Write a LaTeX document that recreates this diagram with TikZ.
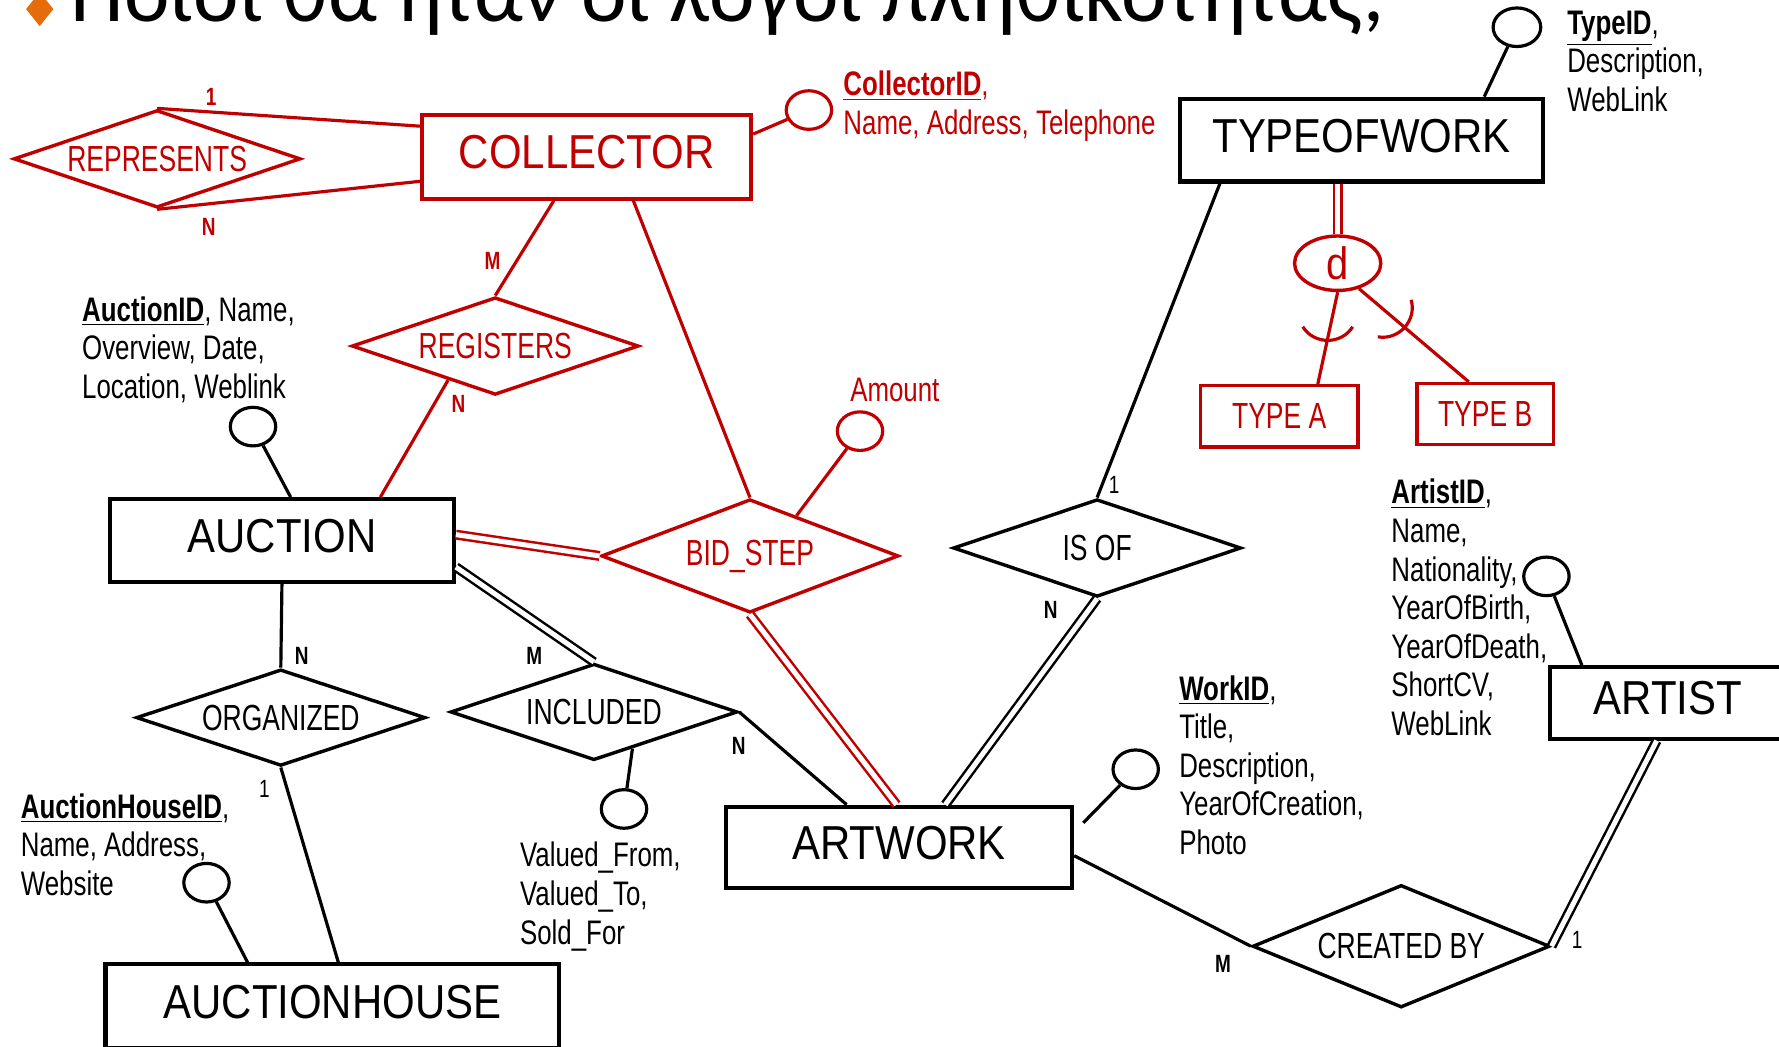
\documentclass[tikz,border=0pt]{standalone}
\usepackage{fontspec}
\setmainfont{Liberation Sans}
\newfontfamily\entf{Liberation Sans}[FakeStretch=0.88]
\newfontfamily\narf{Liberation Sans}[FakeStretch=0.76]
\newfontfamily\relf{Liberation Sans}[FakeStretch=0.73]
\newfontfamily\ttlf{Carlito}
\usetikzlibrary{shapes.geometric,calc}
\definecolor{erred}{RGB}{192,0,0}
\definecolor{bulletor}{RGB}{228,108,10}
\begin{document}
\begin{tikzpicture}[x=0.5pt,y=-0.5pt,
 ent/.style={draw, line width=1.8pt, rectangle, inner sep=0, text depth=4pt, font=\entf\fontsize{21}{21}\selectfont},
 subent/.style={draw, line width=1.5pt, rectangle, inner sep=0, font=\relf\fontsize{16}{16}\selectfont},
 rel/.style={draw, line width=1.5pt, diamond, aspect=3, inner sep=0, font=\relf\fontsize{16}{16}\selectfont},
 attc/.style={draw, line width=1.4pt, ellipse, inner sep=0, minimum width=20pt, minimum height=17pt},
 attt/.style={anchor=north west, align=left, inner sep=0, font=\narf\fontsize{15}{17}\selectfont},
 card/.style={inner sep=0, font=\narf\bfseries\fontsize{11}{11}\selectfont},
 cardr/.style={inner sep=0, font=\narf\fontsize{11}{11}\selectfont},
 conn/.style={line width=1.4pt},
 dbl/.style={double, line width=1.1pt, double distance=2.2pt}]
\useasboundingbox (0,0) rectangle (1568,922);
\clip (0,0) rectangle (1568,922);
% title
\fill[bulletor] (35,-7) -- (47,8) -- (35,23) -- (23,8) -- cycle;
\node[anchor=base west, inner sep=0, font=\ttlf\fontsize{38}{38}\selectfont] (title) at (62,19) {Ποιοι θα ήταν οι λόγοι πληθικότητας;};
% entities
\node[ent, erred, minimum width=145pt, minimum height=37pt] (coll) at (517,138) {COLLECTOR};
\node[ent, minimum width=160pt, minimum height=36.5pt] (tow) at (1200,123.5) {TYPEOFWORK};
\node[ent, minimum width=151.5pt, minimum height=36.5pt] (auc) at (248.5,476.5) {AUCTION};
\node[ent, minimum width=200pt, minimum height=37pt] (ah) at (293,887) {AUCTIONHOUSE};
\node[ent, minimum width=152.5pt, minimum height=36pt] (art) at (792.5,747) {ARTWORK};
\node[ent, minimum width=104pt, minimum height=31.5pt] (artist) at (1470,619.5) {ARTIST};
\node[subent, erred, minimum width=69.5pt, minimum height=27pt] (typeA) at (1127.5,367) {TYPE A};
\node[subent, erred, minimum width=60pt, minimum height=27pt] (typeB) at (1309,365) {TYPE B};
% relationships
\node[rel, erred, minimum width=126.5pt, minimum height=43pt] (repr) at (138.5,140) {REPRESENTS};
\node[rel, erred, minimum width=126.5pt, minimum height=43pt] (reg) at (436.5,305) {REGISTERS};
\node[rel, erred, minimum width=131pt, minimum height=50pt] (bid) at (661,490) {BID\_STEP};
\node[rel, minimum width=127pt, minimum height=43pt] (isof) at (967,483) {IS OF};
\node[rel, minimum width=127.5pt, minimum height=42.5pt] (org) at (247.5,632.5) {ORGANIZED};
\node[rel, minimum width=126.5pt, minimum height=42.5pt] (incl) at (523.5,627.5) {INCLUDED};
\node[rel, minimum width=131pt, minimum height=54pt] (crby) at (1235,834) {CREATED BY};
% specialisation circle
\node[draw, erred, ellipse, line width=1.5pt, minimum width=38pt, minimum height=24pt, inner sep=0, font=\entf\fontsize{20}{20}\selectfont] (d) at (1179,232) {d};
% attribute circles
\node[attc, erred] (collC) at (713,97) {};
\node[attc, minimum width=21pt] (towC) at (1337,24) {};
\node[attc] (aucC) at (223,376) {};
\node[attc, erred] (amtC) at (758,380) {};
\node[attc] (inclC) at (550,713) {};
\node[attc] (ahC) at (182,778) {};
\node[attc] (artC) at (1001,678) {};
\node[attc] (artistC) at (1363,508) {};
% attribute texts
\node[attt, erred] (collT) at (743,62) {\underline{\textbf{CollectorID}},\\Name, Address, Telephone};
\node[attt] (towT) at (1381,9) {\underline{\textbf{TypeID}},\\Description,\\WebLink};
\node[attt] (aucT) at (72,261) {\underline{\textbf{AuctionID}}, Name,\\Overview, Date,\\Location, Weblink};
\node[attt, erred] (amtT) at (749,333) {Amount};
\node[attt] (inclT) at (458,742) {Valued\_From,\\Valued\_To,\\Sold\_For};
\node[attt] (ahT) at (18,699) {\underline{\textbf{AuctionHouseID}},\\Name, Address,\\Website};
\node[attt] (artT) at (1039,595) {\underline{\textbf{WorkID}},\\Title,\\Description,\\YearOfCreation,\\Photo};
\node[attt] (artistT) at (1226,422) {\underline{\textbf{ArtistID}},\\Name,\\Nationality,\\YearOfBirth,\\YearOfDeath,\\ShortCV,\\WebLink};
% connectors
\draw[conn,erred] (repr.north) -- ($(coll.north west)+(0,12)$);
\draw[conn,erred] (repr.south) -- ($(coll.south west)+(0,-17)$);
\draw[conn,erred] ($(coll.north east)+(0,19)$) -- (collC);
\draw[conn,erred] ($(coll.south west)+(118,0)$) -- (reg.north);
\draw[conn,erred] ($(coll.south west)+(188,0)$) -- (bid.north);
\draw[conn,erred] ($(reg.west)!0.675!(reg.south)$) -- ($(auc.north west)+(240,0)$);
\draw[conn] (aucC) -- ($(auc.north west)+(161,0)$);
\draw[dbl,erred] ($(auc.north east)+(0,33)$) -- (bid.west);
\draw[dbl,erred] (bid.south) -- ($(art.north west)+(152,0)$);
\draw[conn,erred] (amtC) -- ($(bid.north)!0.31!(bid.east)$);
\draw[conn] ($(tow.south west)+(37,0)$) -- (isof.north);
\draw[dbl] (isof.south) -- ($(art.north west)+(195,0)$);
\draw[dbl,erred] (d.north |- tow.south) -- (d.north);
\coordinate (ta) at ($(typeA.north west)+(105,0)$);
\coordinate (tb) at ($(typeB.north west)+(47,0)$);
\draw[conn,erred] (d.south) -- (ta);
\draw[conn,erred] (d.-50) -- (tb);
\coordinate (sa) at ($(d.south)!0.5!(ta)$);
\coordinate (sb) at ($(d.-50)!0.4!(tb)$);
\draw[conn,erred] ([shift={(-22,-10)}]sa) .. controls ([shift={(-12,6)}]sa) and ([shift={(12,6)}]sa) .. ([shift={(22,-10)}]sa);
\draw[conn,erred] ([shift={(7.3,-23)}]sb) .. controls ([shift={(12.5,-4.9)}]sb) and ([shift={(-3.5,12.9)}]sb) .. ([shift={(-22.1,9.6)}]sb);
\draw[conn] (auc.south) -- (org.north);
\draw[conn] (org.south) -- ($(ah.north west)+(207,0)$);
\draw[conn] (ahC) -- ($(ah.north west)+(127,0)$);
\draw[dbl] ($(auc.south east)+(0,-15)$) -- (incl.north);
\draw[conn] (incl.east) -- ($(art.north west)+(108,0)$);
\draw[conn] (inclC) -- ($(incl.south)!0.265!(incl.east)$);
\draw[conn] ($(art.north east)+(0,45)$) -- (crby.west);
\coordinate (artFree) at ($(art.north east)+(8,16)$);
\draw[conn] (artC) -- (artFree);
\draw[dbl] (crby.east) -- ($(artist.south west)+(96,0)$);
\draw[conn] (artistC) -- ($(artist.north west)+(30,0)$);
\draw[conn] (towC) -- ($(tow.north west)+(270,0)$);
% cardinalities
\node[card, erred] (c1) at (186,85) {1};
\node[card, erred] (c2) at (184,200) {N};
\node[card, erred] (c3) at (434,230) {M};
\node[card, erred] (c4) at (404,356) {N};
\node[cardr] (c5) at (982,427) {1};
\node[card] (c6) at (926,538) {N};
\node[card] (c7) at (266,578) {N};
\node[card] (c8) at (471,578) {M};
\node[cardr] (c9) at (233,695) {1};
\node[card] (c10) at (651,657) {N};
\node[card] (c11) at (1078,850) {M};
\node[cardr] (c12) at (1390,828) {1};
\end{tikzpicture}
\end{document}
